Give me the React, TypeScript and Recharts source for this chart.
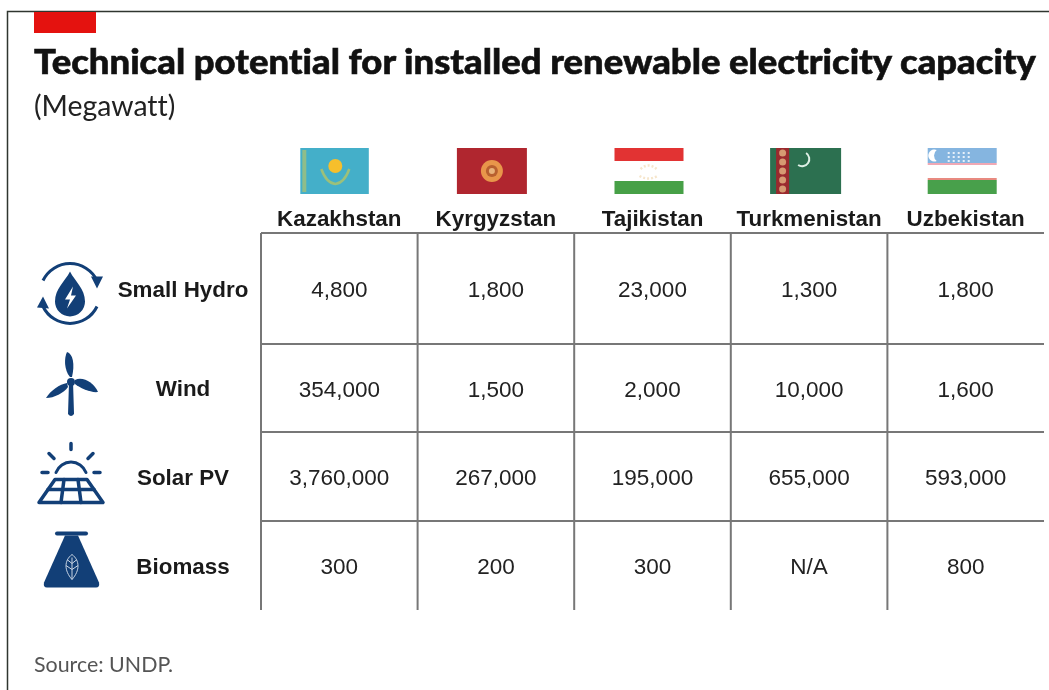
import React from 'react';
import { ScatterChart, Scatter, XAxis, YAxis, ReferenceLine } from 'recharts';

const countries = ['Kazakhstan', 'Kyrgyzstan', 'Tajikistan', 'Turkmenistan', 'Uzbekistan'];
const sources = ['Small Hydro', 'Wind', 'Solar PV', 'Biomass'];

const smallHydro = [4800, 1800, 23000, 1300, 1800];
const wind = [354000, 1500, 2000, 10000, 1600];
const solarPv = [3760000, 267000, 195000, 655000, 593000];
const biomass = [300, 200, 300, null, 800];
const seriesValues = [smallHydro, wind, solarPv, biomass];

// table layout, in axis units
const columnEdges = [0, 1, 2, 3, 4];
const rowEdges = [0, 111, 199, 288];
const rowBottom = 377;
const columnCenters = countries.map((_, i) => i + 0.5);
const rowCenters = sources.map((_, i) => (rowEdges[i] + (rowEdges[i + 1] ?? rowBottom)) / 2);

const cells = sources.flatMap((source, r) =>
  countries.map((country, c) => ({
    source,
    country,
    col: columnCenters[c],
    row: rowCenters[r],
    value: seriesValues[r][c],
  }))
);

const ARIAL = '"Liberation Sans", Arial, sans-serif';
const HUMANIST = 'Lato, "Open Sans", sans-serif';
const NAVY = '#123f77';

const Flag = ({ name }: { name: string }) => {
  if (name === 'Kazakhstan') {
    return (
      <g>
        <rect x={-35} y={0} width={68.5} height={46} fill="#44afc9" />
        <rect x={-33} y={2} width={4} height={42} fill="#8fbd8a" />
        <circle cx={0} cy={18} r={7} fill="#f6bf2c" />
        <path d="M-14 21 Q-9 35 0 36 Q9 35 14 21" fill="none" stroke="#9cc07a" strokeWidth={2.5} />
      </g>
    );
  }
  if (name === 'Kyrgyzstan') {
    return (
      <g>
        <rect x={-35} y={0} width={70} height={46} fill="#b0262f" />
        <circle cx={0} cy={23} r={11} fill="#e8964a" />
        <circle cx={0} cy={23} r={6} fill="#b8602f" />
        <circle cx={0} cy={23} r={3} fill="#e8b27a" />
      </g>
    );
  }
  if (name === 'Tajikistan') {
    return (
      <g>
        <rect x={-34} y={0} width={69} height={13} fill="#e23333" />
        <rect x={-34} y={33} width={69} height={13} fill="#47a047" />
        <path d="M-9 28 Q0 33 9 28 M-8 21 Q0 14 8 21" fill="none" stroke="#f6e6cc" strokeWidth={2.5} strokeDasharray="2 2" />
      </g>
    );
  }
  if (name === 'Turkmenistan') {
    return (
      <g>
        <rect x={-35} y={0} width={71} height={46} fill="#2c7050" />
        <rect x={-29} y={0} width={13} height={46} fill="#9a2a2e" />
        {[5, 14, 23, 32, 41].map((cy) => (
          <circle key={cy} cx={-22.5} cy={cy} r={3.5} fill="#d69a72" />
        ))}
        <path d="M1 5 A7 7 0 0 1 -7 17" fill="none" stroke="#dff0e6" strokeWidth={2} />
      </g>
    );
  }
  return (
    <g>
      <rect x={-34} y={0} width={69} height={15} fill="#85b5e0" />
      <rect x={-34} y={15} width={69} height={2} fill="#f0a8b4" />
      <rect x={-34} y={30} width={69} height={2} fill="#e88a80" />
      <rect x={-34} y={32} width={69} height={14} fill="#48a04b" />
      <path d="M-25 2 A6 6 0 1 0 -25 13 A7 7 0 0 1 -25 2Z" fill="#fff" />
      {[-14, -9, -4, 1, 6].map((dx) =>
        [4, 8, 12].map((dy) => <rect key={`${dx}-${dy}`} x={dx} y={dy} width={2} height={2} fill="#e6f0fa" />)
      )}
    </g>
  );
};

const Icon = ({ name }: { name: string }) => {
  if (name === 'Small Hydro') {
    return (
      <g transform="translate(-1,5)">
        <path d="M-27 -13 A30 30 0 0 1 27 -13" fill="none" stroke={NAVY} strokeWidth={3} />
        <path d="M33 -17 L21 -17 L27 -5Z" fill={NAVY} />
        <path d="M27 13 A30 30 0 0 1 -27 13" fill="none" stroke={NAVY} strokeWidth={3} />
        <path d="M-33 14 L-21 15 L-27 3Z" fill={NAVY} />
        <path d="M0 -22 C5 -12 15 -5 15 8 A15 15 0 0 1 -15 8 C-15 -5 -5 -12 0 -22Z" fill={NAVY} />
        <path d="M3 -7 L-5 6 L0 6 L-3 15 L6 2 L1 2Z" fill="#fff" />
      </g>
    );
  }
  if (name === 'Wind') {
    return (
      <g transform="translate(0,-6)">
        <path d="M-2 0 L-3 32 Q0 36 3 32 L2 0Z" fill={NAVY} />
        <circle cx={0} cy={0} r={4} fill={NAVY} />
        <path d="M-1 -5 C-7 -12 -7 -24 -4 -30 C2 -28 4 -18 1 -5Z" fill={NAVY} />
        <path d="M4 -2 C12 -6 23 1 27 10 C20 11 9 6 4 2Z" fill={NAVY} />
        <path d="M-4 1 C-11 2 -21 9 -25 16 C-17 16 -7 11 -3 5Z" fill={NAVY} />
      </g>
    );
  }
  if (name === 'Solar PV') {
    return (
      <g stroke={NAVY} fill="none" strokeLinecap="round">
        <path d="M-15 -4 A16 16 0 0 1 15 -4" strokeWidth={3} />
        <path d="M0 -33 L0 -27 M-22 -23 L-17 -18 M22 -23 L17 -18 M-29 -4 L-23 -4 M23 -4 L29 -4" strokeWidth={3.5} />
        <path d="M-16 3 L16 3 L32 26 L-32 26Z" strokeWidth={3.5} strokeLinejoin="round" />
        <path d="M-23 13 L23 13 M-7 3 L-10 26 M7 3 L10 26" strokeWidth={3.5} />
      </g>
    );
  }
  return (
    <g transform="translate(1,1)">
      <rect x={-17} y={-35} width={33} height={4} rx={2} fill={NAVY} />
      <path d="M-7 -31 L6 -31 L27 16 Q28 21 24 21 L-25 21 Q-29 21 -28 16Z" fill={NAVY} />
      <path d="M0 -12 C8 -6 8 4 0 13 C-8 4 -8 -6 0 -12Z M0 -9 L0 13 M0 -3 L-5 -7 M0 -3 L5 -7 M0 3 L-6 -1 M0 3 L6 -1" fill="none" stroke="#c7d4e4" strokeWidth={1} />
    </g>
  );
};

const CountryTick = (props: any) => {
  const name = countries[Math.floor(props.payload.value)];
  return (
    <g>
      <g transform={`translate(${props.x - 4},148)`}>
        <Flag name={name} />
      </g>
      <text x={props.x} y={226} textAnchor="middle" fontFamily={ARIAL} fontWeight={700} fontSize={22.4} fill="#1a1a1a">
        {name}
      </text>
    </g>
  );
};

const SourceTick = (props: any) => {
  const name = sources[rowCenters.indexOf(props.payload.value)];
  return (
    <g>
      <g transform={`translate(71,${props.y})`}>
        <Icon name={name} />
      </g>
      <text x={183} y={props.y + 8} textAnchor="middle" fontFamily={ARIAL} fontWeight={700} fontSize={22.4} fill="#1a1a1a">
        {name}
      </text>
    </g>
  );
};

const CellValue = (props: any) => {
  const { value } = props.payload;
  return (
    <text x={props.cx} y={props.cy + 8.5} textAnchor="middle" fontFamily={ARIAL} fontSize={22.5} fill="#222">
      {value === null ? 'N/A' : value.toLocaleString('en-US')}
    </text>
  );
};

export default function App() {
  return (
    <div style={{ position: 'absolute', left: 0, top: 0, background: '#fff', filter: 'blur(0.4px)' }}>
      <ScatterChart width={1049} height={690} margin={{ top: 0, right: 5, bottom: 80, left: 0 }}>
        <XAxis
          type="number"
          dataKey="col"
          orientation="top"
          domain={[0, 5]}
          ticks={columnCenters}
          interval={0}
          height={233}
          axisLine={false}
          tickLine={false}
          tick={<CountryTick />}
        />
        <YAxis
          type="number"
          dataKey="row"
          reversed
          domain={[0, rowBottom]}
          ticks={rowCenters}
          interval={0}
          width={261}
          axisLine={false}
          tickLine={false}
          tick={<SourceTick />}
        />
        {rowEdges.map((edge) => (
          <ReferenceLine key={`r${edge}`} y={edge} stroke="#4a4a4a" strokeWidth={1.5} ifOverflow="visible" />
        ))}
        {columnEdges.map((edge) => (
          <ReferenceLine key={`c${edge}`} x={edge} stroke="#777" strokeWidth={2} ifOverflow="visible" />
        ))}
        <Scatter data={cells} isAnimationActive={false} shape={<CellValue />} />
        <path d="M1049 11.5 L7.5 11.5 L7.5 690" fill="none" stroke="#2f352f" strokeWidth={1.5} />
        <rect x={34} y={12} width={62} height={21} fill="#e4120f" />
        <text x={34} y={74} fontFamily={HUMANIST} fontWeight={900} fontSize={35} fill="#111" stroke="#111" strokeWidth={0.6} textLength={1002} lengthAdjust="spacingAndGlyphs" style={{ fontVariantLigatures: 'none' }}>
          Technical potential for installed renewable electricity capacity
        </text>
        <text x={34} y={116} fontFamily={HUMANIST} fontSize={28.4} fill="#222" style={{ fontVariantLigatures: 'none' }}>
          (Megawatt)
        </text>
        <text x={34} y={672} fontFamily={HUMANIST} fontSize={21.4} fill="#555">
          Source: UNDP.
        </text>
      </ScatterChart>
    </div>
  );
}
